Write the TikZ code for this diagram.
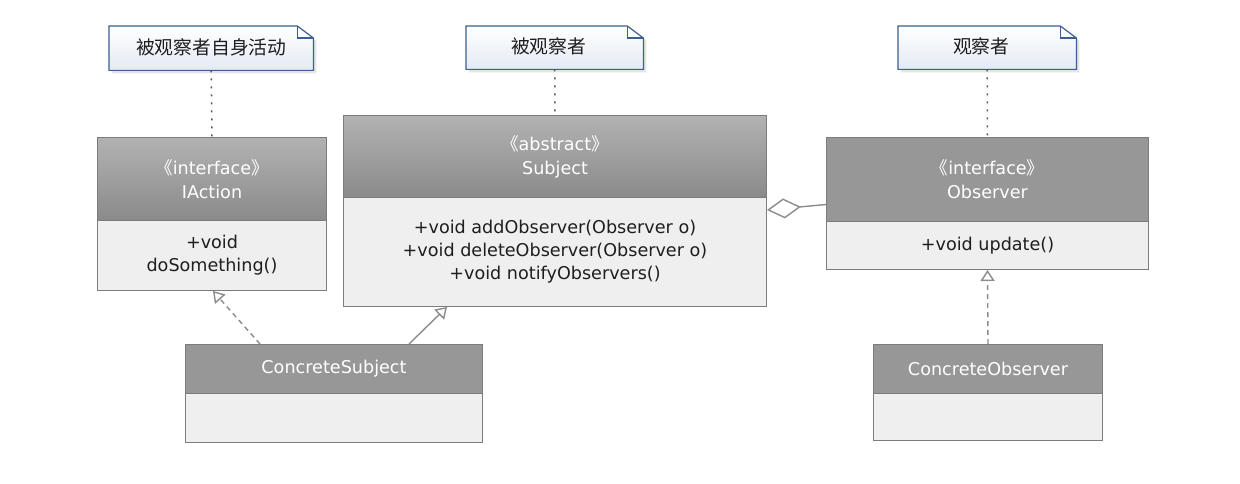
\documentclass[tikz,border=0pt]{standalone}
\usepackage{fontspec}
\setmainfont{DejaVu Sans}
\newfontfamily\cjk{Noto Sans CJK SC}
\usetikzlibrary{arrows.meta}
\definecolor{boxline}{HTML}{7C7C7C}
\definecolor{hdrgray}{HTML}{979797}
\definecolor{hdrtop}{HTML}{B2B2B2}
\definecolor{hdrbot}{HTML}{8A8A8A}
\definecolor{bodygray}{HTML}{EFEFEF}
\definecolor{txt}{HTML}{1E1E1E}
\definecolor{noteline}{HTML}{3D5E8E}
\definecolor{notebot}{HTML}{E3EAF4}
\definecolor{conn}{HTML}{8C8C8C}
\definecolor{dotc}{HTML}{555555}
\tikzset{
  x=1pt, y=-1pt,
  classfont/.style={font=\fontsize{17.6}{24}\selectfont},
  hdrbox/.style={draw=boxline, line width=1pt, fill=hdrgray, text=white, anchor=north west,
    inner sep=0pt, align=center, classfont},
  gradhdr/.style={hdrbox, top color=hdrtop, bottom color=hdrbot},
  bodybox/.style={draw=boxline, line width=1pt, fill=bodygray, text=txt, anchor=north west,
    inner sep=0pt, align=center, font=\fontsize{17.6}{23}\selectfont},
  notebox/.style={anchor=north west, inner sep=0pt},
  notelabel/.style={text=txt, font=\cjk\fontsize{18.8}{22}\selectfont, inner sep=0pt},
  noteshape/.style={top color=white, bottom color=notebot, draw=noteline, line width=1.2pt},
  noteconn/.style={draw=dotc, line width=1.5pt, dash pattern=on 2pt off 6pt},
  realize/.style={draw=conn, line width=1.4pt, dash pattern=on 5pt off 4pt,
    -{Triangle[open, length=11pt, width=14pt]}},
  general/.style={draw=conn, line width=1.4pt, -{Triangle[open, length=11pt, width=14pt]}},
  aggreg/.style={draw=conn, line width=1.4pt, -{Diamond[open, length=34pt, width=20pt]}},
}
\newcommand{\stl}{{\cjk 《}}
\newcommand{\str}{{\cjk 》}}
\begin{document}
\begin{tikzpicture}
\useasboundingbox (0,0) rectangle (1240,484);
\fill[white] (0,0) rectangle (1240,484);

% ---- notes ----
\node[notebox, minimum width=204pt, minimum height=44pt] (n1) at (109,26) {};
\node[notebox, minimum width=177pt, minimum height=43pt] (n2) at (466,26) {};
\node[notebox, minimum width=178pt, minimum height=43pt] (n3) at (898,26) {};
\foreach \n in {n1,n2,n3}{
  \fill[black!10] ([xshift=3pt,yshift=-3pt]\n.north west) -- ([xshift=-13pt,yshift=-3pt]\n.north east)
     -- ([xshift=3pt,yshift=-15pt]\n.north east) -- ([xshift=3pt,yshift=-3pt]\n.south east)
     -- ([xshift=3pt,yshift=-3pt]\n.south west) -- cycle;
  \shade[noteshape] (\n.north west) -- ([xshift=-16pt]\n.north east)
     -- ([yshift=-12pt]\n.north east) -- (\n.south east) -- (\n.south west) -- cycle;
  \draw[noteline, line width=1.2pt] ([xshift=-16pt]\n.north east) |- ([yshift=-12pt]\n.north east);
}
\node[notelabel] (t1) at ([yshift=1pt]n1.center) {被观察者自身活动};
\node[notelabel] (t2) at ([xshift=-6pt,yshift=1pt]n2.center) {被观察者};
\node[notelabel] (t3) at ([xshift=-6pt,yshift=1pt]n3.center) {观察者};

% ---- classes ----
\node[gradhdr, minimum width=229pt, minimum height=83pt] (iaH) at (97,137) {\stl interface\str\\IAction};
\node[bodybox, minimum width=229pt, minimum height=70pt] (iaB) at (97,220) {+void\\doSomething()};

\node[gradhdr, minimum width=423pt, minimum height=82pt] (subH) at (343,115) {\stl abstract\str\\Subject};
\node[bodybox, minimum width=423pt, minimum height=109pt] (subB) at (343,197)
  {+void addObserver(Observer o)\\+void deleteObserver(Observer o)\\+void notifyObservers()};

\node[hdrbox, minimum width=322pt, minimum height=84pt] (obsH) at (826,137) {\stl interface\str\\Observer};
\node[bodybox, minimum width=322pt, minimum height=48pt] (obsB) at (826,221) {+void update()};

\node[hdrbox, minimum width=297pt, minimum height=49pt] (csH) at (185,344) {ConcreteSubject};
\node[bodybox, minimum width=297pt, minimum height=49pt] (csB) at (185,393) {};

\node[hdrbox, minimum width=229pt, minimum height=49pt] (coH) at (873,344) {ConcreteObserver};
\node[bodybox, minimum width=229pt, minimum height=47pt] (coB) at (873,393) {};

% ---- note connectors ----
\draw[noteconn] (n1.south) -- (iaH.north);
\draw[noteconn] (n2.south) -- (subH.north);
\draw[noteconn] (n3.south) -- (obsH.north);

% ---- relations ----
\draw[realize] ([xshift=75pt]csH.north west) -- ([xshift=116pt]iaB.south west);
\draw[general] ([xshift=224pt]csH.north west) -- ([xshift=104pt]subB.south west);
\draw[realize] (coH.north) -- (obsB.south);
\draw[aggreg] ([yshift=-25pt]obsH.west) -- ([yshift=42pt]subB.east);
\end{tikzpicture}
\end{document}
